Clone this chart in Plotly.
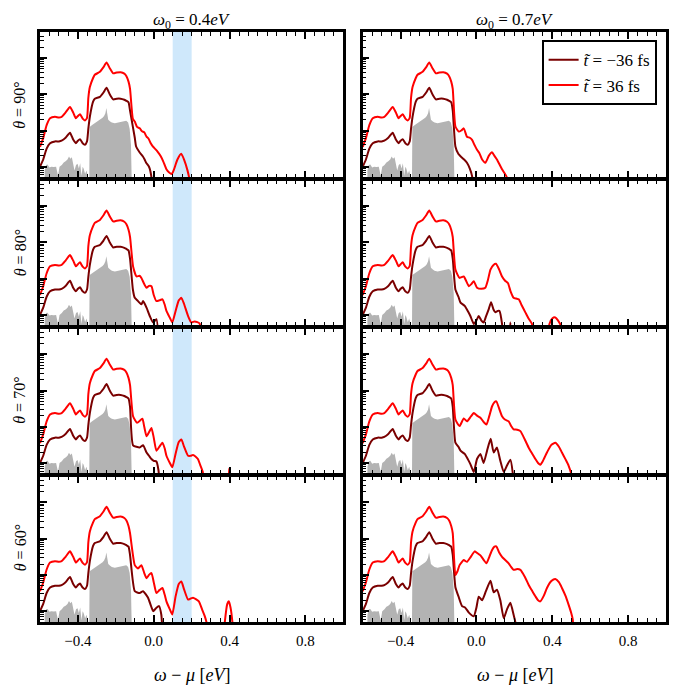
import numpy as np
import plotly.graph_objects as go
from plotly.subplots import make_subplots

# ---------------- data (x in eV, intensity given as log10 value) ----------------
# shared low-energy part, identical in every panel
body_x = [-0.600, -0.583, -0.565, -0.547, -0.521, -0.500, -0.486, -0.465, -0.442, -0.425,
          -0.411, -0.400, -0.389, -0.375, -0.363, -0.352, -0.345, -0.337, -0.320, -0.311,
          -0.284, -0.265, -0.249, -0.232, -0.214, -0.195, -0.175, -0.155, -0.144, -0.133, -0.125]
red_body_log = [0.55, 0.79, 1.15, 1.34, 1.38, 1.36, 1.38, 1.50, 1.65, 1.50,
                1.34, 1.40, 1.45, 1.33, 1.28, 1.35, 1.90, 2.20, 2.45, 2.54,
                2.62, 2.75, 2.88, 2.72, 2.58, 2.60, 2.61, 2.57, 2.50, 2.35, 2.15]
dark_body_log = [0.00, 0.20, 0.50, 0.65, 0.70, 0.70, 0.72, 0.80, 0.94, 0.75,
                 0.65, 0.72, 0.76, 0.65, 0.61, 0.70, 1.05, 1.38, 1.80, 1.88,
                 1.93, 2.05, 2.18, 2.00, 1.86, 1.88, 1.88, 1.85, 1.82, 1.78, 1.55]

gray_x = [-0.578, -0.575, -0.568, -0.560, -0.550, -0.540, -0.528, -0.515, -0.505, -0.497,
          -0.485, -0.475, -0.465, -0.455, -0.447, -0.440, -0.432, -0.425, -0.418, -0.410,
          -0.402, -0.395, -0.388, -0.381, -0.375, -0.370, -0.362, -0.355, -0.345, -0.340,
          -0.338, -0.325, -0.311, -0.295, -0.284, -0.270, -0.262, -0.255, -0.250, -0.246,
          -0.240, -0.230, -0.221, -0.205, -0.195, -0.180, -0.168, -0.155, -0.145, -0.135,
          -0.127, -0.120, -0.113, -0.110]
gray_log = [-2.0, -0.10, 0.05, 0.06, -0.02, 0.00, -0.01, 0.00, -0.25, 0.00,
            0.05, 0.12, 0.15, 0.20, 0.28, 0.22, 0.26, 0.12, -0.10, 0.05,
            0.08, -0.05, 0.10, -0.25, 0.00, -0.05, -0.20, -0.10, -0.30, -0.30,
            1.10, 1.15, 1.20, 1.25, 1.29, 1.35, 1.40, 1.48, 1.62, 1.45,
            1.30, 1.25, 1.22, 1.20, 1.21, 1.23, 1.24, 1.25, 1.27, 1.22,
            1.05, 0.60, -0.30, -2.0]

# high-energy tails, (x, log10 intensity); -1 means below the visible range
red_tail_04_90 = [(-0.110, 1.32), (-0.100, 1.25), (-0.088, 1.10), (-0.074, 1.06), (-0.062, 0.98),
                  (-0.050, 0.95), (-0.038, 0.83), (-0.028, 0.78), (-0.015, 0.64), (-0.005, 0.56),
                  (0.010, 0.48), (0.020, 0.42), (0.037, 0.29), (0.050, 0.15), (0.067, -0.07),
                  (0.080, -0.15), (0.095, -0.20), (0.105, -0.10), (0.125, 0.20), (0.145, 0.36),
                  (0.160, 0.20), (0.178, -0.10), (0.190, -0.40), (0.200, -1.0)]
dark_tail_04_90 = [(-0.110, 1.10), (-0.100, 0.80), (-0.093, 0.56), (-0.075, 0.40), (-0.058, 0.29),
                   (-0.048, 0.20), (-0.040, 0.11), (-0.025, 0.00), (-0.013, -0.26), (-0.005, -1.0)]

red_tail_04_80 = [(-0.109, 1.34), (-0.091, 1.06), (-0.075, 1.08), (-0.065, 1.02), (-0.050, 0.85),
                  (-0.038, 0.75), (-0.025, 0.80), (-0.012, 0.79), (0.000, 0.55), (0.014, 0.38),
                  (0.030, 0.40), (0.046, 0.43), (0.058, 0.28), (0.067, 0.11), (0.085, -0.08),
                  (0.098, -0.21), (0.115, 0.10), (0.132, 0.40), (0.146, 0.47), (0.160, 0.30),
                  (0.181, -0.03), (0.198, -0.21), (0.215, -0.18), (0.230, -0.20), (0.242, -0.24),
                  (0.250, -1.0)]
dark_tail_04_80 = [(-0.110, 0.70), (-0.100, 0.47), (-0.083, 0.38), (-0.065, 0.29), (-0.056, 0.38),
                   (-0.038, 0.20), (-0.021, -0.03), (-0.003, -0.21), (0.014, -0.12), (0.030, -1.0)]

red_tail_04_70 = [(-0.109, 1.29), (-0.088, 1.11), (-0.060, 1.22), (-0.050, 1.00), (-0.038, 0.74),
                  (-0.025, 0.85), (-0.012, 0.97), (0.000, 0.70), (0.014, 0.34), (0.030, 0.45),
                  (0.046, 0.56), (0.058, 0.40), (0.067, 0.20), (0.085, 0.00), (0.098, -0.12),
                  (0.115, 0.25), (0.132, 0.58), (0.146, 0.65), (0.160, 0.45), (0.181, 0.20),
                  (0.195, 0.20), (0.207, 0.22), (0.220, 0.18), (0.233, 0.11), (0.245, -0.05),
                  (0.259, -0.25), (0.270, -1.0), (0.385, -1.0), (0.398, -0.15), (0.410, -1.0)]
dark_tail_04_70 = [(-0.109, 0.49), (-0.074, 0.43), (-0.056, 0.49), (-0.038, 0.29), (-0.025, 0.20),
                   (-0.012, 0.11), (0.000, 0.06), (0.014, 0.04), (0.025, -0.20), (0.035, -1.0)]

red_tail_04_60 = [(-0.100, 1.27), (-0.083, 1.18), (-0.065, 1.27), (-0.050, 1.05), (-0.038, 0.91),
                  (-0.025, 1.00), (-0.012, 1.05), (0.000, 0.80), (0.014, 0.50), (0.030, 0.58),
                  (0.046, 0.64), (0.058, 0.45), (0.067, 0.27), (0.085, 0.05), (0.098, -0.09),
                  (0.115, 0.40), (0.132, 0.75), (0.146, 0.82), (0.160, 0.60), (0.181, 0.32),
                  (0.195, 0.35), (0.207, 0.37), (0.222, 0.33), (0.238, 0.27), (0.255, 0.05),
                  (0.270, -0.15), (0.280, -0.35), (0.290, -1.0), (0.365, -1.0), (0.375, -0.30),
                  (0.388, 0.20), (0.396, 0.27), (0.405, 0.10), (0.415, -0.30), (0.425, -1.0)]
dark_tail_04_60 = [(-0.100, 0.55), (-0.074, 0.50), (-0.056, 0.55), (-0.030, 0.37), (-0.015, 0.15),
                   (-0.003, 0.00), (0.012, 0.08), (0.028, 0.14), (0.040, -0.10), (0.050, -1.0)]

red_tail_07_90 = [(-0.111, 1.11), (-0.093, 0.97), (-0.080, 1.00), (-0.067, 1.06), (-0.050, 0.83),
                  (-0.035, 0.80), (-0.023, 0.74), (-0.010, 0.60), (0.003, 0.47), (0.015, 0.38),
                  (0.030, 0.20), (0.047, 0.11), (0.065, 0.30), (0.082, 0.40), (0.095, 0.30),
                  (0.108, 0.20), (0.135, -0.07), (0.161, -0.30), (0.175, -1.0)]
dark_tail_07_90 = [(-0.111, 0.56), (-0.095, 0.35), (-0.084, 0.29), (-0.065, 0.20), (-0.050, 0.11),
                   (-0.035, -0.05), (-0.023, -0.26), (-0.015, -1.0)]

red_tail_07_80 = [(-0.111, 1.25), (-0.089, 1.02), (-0.067, 1.06), (-0.040, 0.79), (-0.027, 0.85),
                  (-0.014, 0.93), (0.003, 0.75), (0.025, 0.72), (0.047, 0.75), (0.060, 0.95),
                  (0.074, 1.25), (0.090, 1.38), (0.103, 1.41), (0.120, 1.25), (0.135, 1.06),
                  (0.150, 0.95), (0.166, 0.88), (0.180, 0.65), (0.196, 0.47), (0.210, 0.45),
                  (0.223, 0.43), (0.240, 0.25), (0.258, 0.07), (0.275, -0.10), (0.293, -0.25),
                  (0.305, -1.0), (0.370, -1.0), (0.385, -0.25), (0.400, -0.10), (0.416, -0.07),
                  (0.430, -0.15), (0.445, -0.30), (0.455, -1.0)]
dark_tail_07_80 = [(-0.111, 0.70), (-0.095, 0.50), (-0.084, 0.34), (-0.062, 0.25), (-0.045, 0.10),
                   (-0.032, -0.03), (-0.014, -0.25), (0.000, -0.15), (0.012, -0.03), (0.025, -0.15),
                   (0.038, -0.21), (0.050, -0.05), (0.065, 0.16), (0.077, 0.35), (0.090, 0.15),
                   (0.100, 0.07), (0.112, 0.11), (0.121, 0.11), (0.135, -0.25), (0.145, -1.0),
                   (0.170, -1.0), (0.179, -0.21), (0.188, -1.0)]

red_tail_07_70 = [(-0.111, 1.20), (-0.089, 1.02), (-0.067, 1.23), (-0.050, 1.15), (-0.030, 1.28),
                  (-0.014, 1.38), (0.005, 1.30), (0.021, 1.25), (0.040, 1.12), (0.053, 1.06),
                  (0.068, 1.30), (0.082, 1.56), (0.095, 1.68), (0.105, 1.70), (0.120, 1.50),
                  (0.135, 1.29), (0.150, 1.20), (0.170, 1.15), (0.183, 1.02), (0.196, 0.93),
                  (0.215, 0.92), (0.232, 0.88), (0.255, 0.65), (0.275, 0.43), (0.295, 0.25),
                  (0.311, 0.11), (0.325, 0.00), (0.337, -0.05), (0.350, 0.05), (0.372, 0.29),
                  (0.395, 0.50), (0.416, 0.56), (0.435, 0.45), (0.451, 0.29), (0.470, 0.10),
                  (0.486, -0.07), (0.500, -0.30), (0.510, -1.0)]
dark_tail_07_70 = [(-0.111, 0.56), (-0.095, 0.45), (-0.084, 0.34), (-0.062, 0.25), (-0.045, 0.10),
                   (-0.032, -0.03), (-0.014, -0.25), (0.003, 0.11), (0.021, 0.25), (0.038, 0.00),
                   (0.056, 0.34), (0.075, 0.67), (0.091, 0.29), (0.108, 0.43), (0.126, 0.06),
                   (0.144, -0.25), (0.161, -0.07), (0.179, 0.09), (0.191, -0.25), (0.200, -1.0)]

red_tail_07_60 = [(-0.111, 1.00), (-0.100, 1.10), (-0.089, 1.27), (-0.067, 1.41), (-0.050, 1.36),
                  (-0.030, 1.50), (-0.009, 1.65), (0.005, 1.60), (0.021, 1.54), (0.040, 1.40),
                  (0.053, 1.32), (0.068, 1.50), (0.082, 1.68), (0.095, 1.78), (0.105, 1.79),
                  (0.120, 1.62), (0.135, 1.50), (0.150, 1.42), (0.170, 1.32), (0.183, 1.22),
                  (0.196, 1.14), (0.215, 1.16), (0.232, 1.14), (0.255, 0.95), (0.275, 0.73),
                  (0.295, 0.55), (0.311, 0.41), (0.325, 0.30), (0.337, 0.27), (0.355, 0.42),
                  (0.372, 0.64), (0.395, 0.83), (0.416, 0.89), (0.435, 0.80), (0.451, 0.64),
                  (0.470, 0.42), (0.486, 0.18), (0.500, -0.05), (0.508, -0.23), (0.515, -1.0)]
dark_tail_07_60 = [(-0.111, 0.66), (-0.095, 0.41), (-0.076, 0.14), (-0.060, 0.10), (-0.040, -0.04),
                   (-0.014, -0.14), (0.000, 0.10), (0.012, 0.40), (0.030, 0.30), (0.050, 0.55),
                   (0.074, 0.84), (0.091, 0.52), (0.108, 0.59), (0.126, 0.30), (0.144, -0.20),
                   (0.161, 0.05), (0.179, 0.23), (0.196, -0.10), (0.205, -0.30), (0.212, -1.0)]

col_titles = ["<i>ω</i><sub>0</sub> = 0.4<i>eV</i>", "<i>ω</i><sub>0</sub> = 0.7<i>eV</i>"]
row_labels = ["<i>θ</i> = 90°", "<i>θ</i> = 80°", "<i>θ</i> = 70°", "<i>θ</i> = 60°"]
legend_names = ["<i>t̃</i> = −36 fs", "<i>t̃</i> = 36 fs"]
band_range = [0.1, 0.2]

panels = [
    [(red_tail_04_90, dark_tail_04_90), (red_tail_07_90, dark_tail_07_90)],
    [(red_tail_04_80, dark_tail_04_80), (red_tail_07_80, dark_tail_07_80)],
    [(red_tail_04_70, dark_tail_04_70), (red_tail_07_70, dark_tail_07_70)],
    [(red_tail_04_60, dark_tail_04_60), (red_tail_07_60, dark_tail_07_60)],
]

# ---------------- figure ----------------
DARK = "#7a0000"
RED = "#ff0000"
GRAY = "#b3b3b3"
BAND = "#cfe8fb"
FONT = "Liberation Serif"
LW = 2.5


def join(bx, bl, tail):
    xs = list(bx) + [p[0] for p in tail]
    ls = list(bl) + [p[1] for p in tail]
    return xs, np.power(10.0, np.array(ls))


fig = make_subplots(rows=4, cols=2, shared_xaxes=True,
                    horizontal_spacing=0.031, vertical_spacing=LW / 590)

for r in range(4):
    for c in range(2):
        red_tail, dark_tail = panels[r][c]
        first = (r == 0 and c == 0)
        fig.add_trace(go.Scatter(x=gray_x, y=np.power(10.0, np.array(gray_log)),
                                 mode="lines", fill="toself", fillcolor=GRAY,
                                 line=dict(width=0, color=GRAY), showlegend=False,
                                 hoverinfo="skip"), row=r + 1, col=c + 1)
        dx, dy = join(body_x, dark_body_log, dark_tail)
        fig.add_trace(go.Scatter(x=dx, y=dy, mode="lines", name=legend_names[0],
                                 line=dict(color=DARK, width=2, shape="spline",
                                           smoothing=0.5),
                                 showlegend=first, legendrank=1), row=r + 1, col=c + 1)
        rx, ry = join(body_x, red_body_log, red_tail)
        fig.add_trace(go.Scatter(x=rx, y=ry, mode="lines", name=legend_names[1],
                                 line=dict(color=RED, width=2, shape="spline",
                                           smoothing=0.5),
                                 showlegend=first, legendrank=2), row=r + 1, col=c + 1)
        if c == 0:
            fig.add_vrect(x0=band_range[0], x1=band_range[1], fillcolor=BAND, opacity=1,
                          line_width=0, layer="below", row=r + 1, col=c + 1)

fig.update_xaxes(range=[-0.6, 1.0], tickmode="linear", tick0=-0.4, dtick=0.4,
                 tickformat=".1f", ticks="inside", ticklen=7, tickwidth=1.5,
                 tickcolor="black",
                 minor=dict(ticks="inside", dtick=0.05, tick0=0, ticklen=4,
                            tickwidth=1.2, tickcolor="black", showgrid=False),
                 showline=True, linewidth=LW, linecolor="black", mirror="ticks",
                 showgrid=False, zeroline=False,
                 tickfont=dict(family=FONT, size=15, color="black"))
fig.update_yaxes(type="log", range=[-0.3, 3.72], tick0=0, dtick=1,
                 ticks="inside", ticklen=7, tickwidth=1.5, tickcolor="black",
                 minor=dict(ticks="inside", dtick="D1", ticklen=4, tickwidth=1.2,
                            tickcolor="black", showgrid=False),
                 showticklabels=False, showline=True, linewidth=LW,
                 linecolor="black", mirror=True, showgrid=False, zeroline=False)
for c in range(2):
    fig.update_xaxes(showticklabels=True, ticklabelstandoff=3, row=4, col=c + 1)

ann = []
col_centers = [0.243, 0.758]
for c in range(2):
    ann.append(dict(text=col_titles[c], x=col_centers[c], y=1.0, xref="paper",
                    yref="paper", xanchor="center", yanchor="top", yshift=24,
                    showarrow=False, font=dict(family=FONT, size=17, color="black")))
    ann.append(dict(text="<i>ω</i> − <i>μ</i> [<i>eV</i>]", x=col_centers[c], y=0.0,
                    xref="paper", yref="paper", xanchor="center", yanchor="middle",
                    yshift=-53, showarrow=False,
                    font=dict(family=FONT, size=18, color="black")))
for r in range(4):
    ann.append(dict(text=row_labels[r], x=0.0, xref="paper", xanchor="center", xshift=-20,
                    y=1 - (r + 0.5) / 4, yref="paper", yanchor="middle", textangle=-90,
                    showarrow=False, font=dict(family=FONT, size=16, color="black")))

# the page adds an 8 px body margin, so the figure is made 8 px smaller
fig.update_layout(
    width=672, height=682,
    margin=dict(l=32, r=14, t=24, b=68),
    paper_bgcolor="white", plot_bgcolor="white",
    annotations=ann,
    legend=dict(x=0.985, y=0.986, xanchor="right", yanchor="top",
                bgcolor="white", bordercolor="black", borderwidth=2,
                font=dict(family=FONT, size=17, color="black"),
                tracegroupgap=0, itemwidth=30),
)

fig.write_html("out.html")
